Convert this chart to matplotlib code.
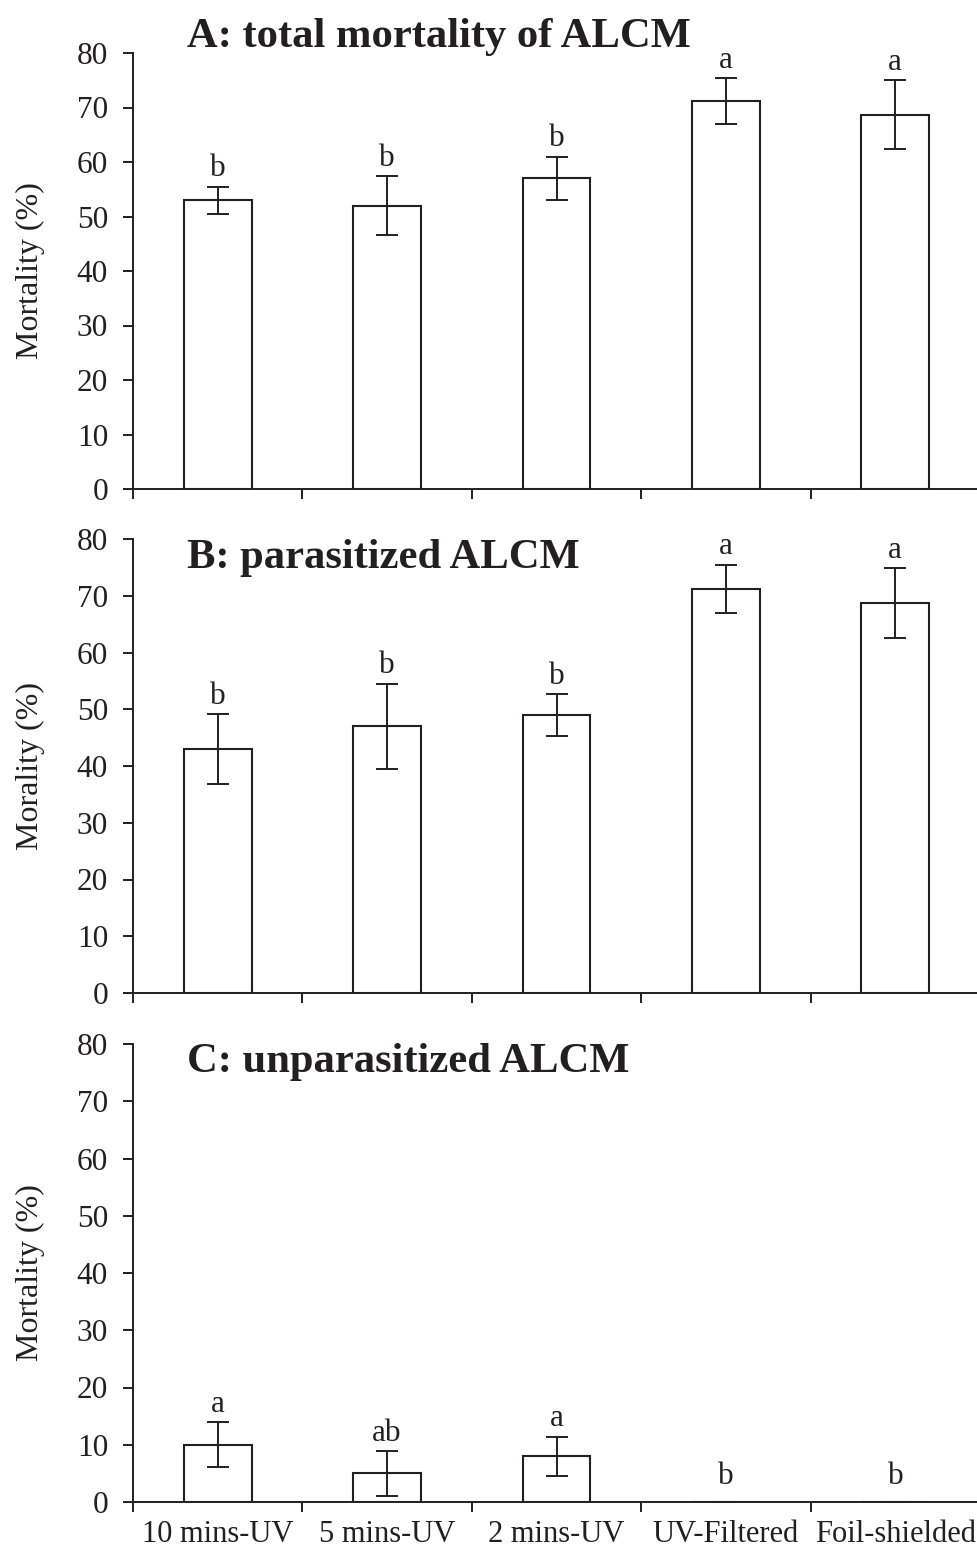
import numpy as np
import matplotlib.pyplot as plt

# treatments along the x axis
treatments = ['10 mins-UV', '5 mins-UV', '2 mins-UV', 'UV-Filtered', 'Foil-shielded']

# A: total mortality
total_mean = [53.0, 52.0, 57.0, 71.2, 68.7]
total_err = [2.5, 5.4, 4.0, 4.2, 6.3]
total_letters = ['b', 'b', 'b', 'a', 'a']

# B: parasitized
para_mean = [43.0, 47.0, 49.0, 71.2, 68.7]
para_err = [6.1, 7.5, 3.7, 4.3, 6.2]
para_letters = ['b', 'b', 'b', 'a', 'a']

# C: unparasitized
unpara_mean = [10.0, 5.0, 8.0, 0.0, 0.0]
unpara_err = [3.9, 3.9, 3.4, 0.0, 0.0]
unpara_letters = ['a', 'ab', 'a', 'b', 'b']

INK = '#231f20'
W, H = 978, 1553

plt.rcParams['font.family'] = ['Liberation Serif', 'DejaVu Serif']
plt.rcParams['text.color'] = INK
plt.rcParams['axes.edgecolor'] = INK
plt.rcParams['xtick.color'] = INK
plt.rcParams['ytick.color'] = INK


def panel(fig, top_px, bottom_px, means, errs, letters, title, title_base_px,
          ylabel, show_names=False):
    left = 133 / W
    width = 5 * 169.4 / W
    bottom = 1 - bottom_px / H
    height = (bottom_px - top_px) / H
    ax = fig.add_axes([left, bottom, width, height])

    x = np.arange(len(treatments))
    ax.bar(x, means, width=0.4, color='white', edgecolor=INK, linewidth=1.5, zorder=2)
    ax.errorbar(x, means, yerr=errs, fmt='none', ecolor=INK, elinewidth=1.4,
                capsize=8, capthick=1.4, zorder=3)
    for i, (m, e, lab) in enumerate(zip(means, errs, letters)):
        ax.annotate(lab, xy=(i, max(m + e, 1.4)), xytext=(0, 7.5),
                    textcoords='offset points', ha='center', va='baseline',
                    fontsize=22.5)

    ax.set_xlim(-0.5, 4.5)
    ax.set_ylim(0, 80)
    ax.set_yticks(np.arange(0, 81, 10))
    ax.tick_params(axis='y', direction='out', length=7, width=1.4,
                   labelsize=22.5, pad=11)

    # boundaries carry the tick marks, centres carry the names
    ax.set_xticks(np.arange(-0.5, 5, 1.0))
    ax.set_xticklabels([])
    ax.set_xticks(x, minor=True)
    ax.set_xticklabels(treatments if show_names else [''] * 5, minor=True)
    ax.tick_params(axis='x', which='major', direction='out', length=7, width=1.4)
    ax.tick_params(axis='x', which='minor', length=0, labelsize=22, pad=13)

    for side in ('top', 'right'):
        ax.spines[side].set_visible(False)
    for side in ('left', 'bottom'):
        ax.spines[side].set_linewidth(1.4)

    fig.text(187 / W, 1 - title_base_px / H, title, fontsize=30.7,
             fontweight='bold', ha='left', va='baseline')
    fig.text(30 / W, bottom + height / 2, ylabel, rotation=90, fontsize=23,
             ha='center', va='center')
    return ax


fig = plt.figure(figsize=(W / 100, H / 100), dpi=100)

panel(fig, 53, 489, total_mean, total_err, total_letters,
      'A: total mortality of ALCM', 47, 'Mortality (%)')
panel(fig, 539, 993, para_mean, para_err, para_letters,
      'B: parasitized ALCM', 568, 'Morality (%)')
panel(fig, 1044, 1502, unpara_mean, unpara_err, unpara_letters,
      'C: unparasitized ALCM', 1072, 'Mortality (%)', show_names=True)

fig.savefig('out.png', dpi=100, facecolor='white')
